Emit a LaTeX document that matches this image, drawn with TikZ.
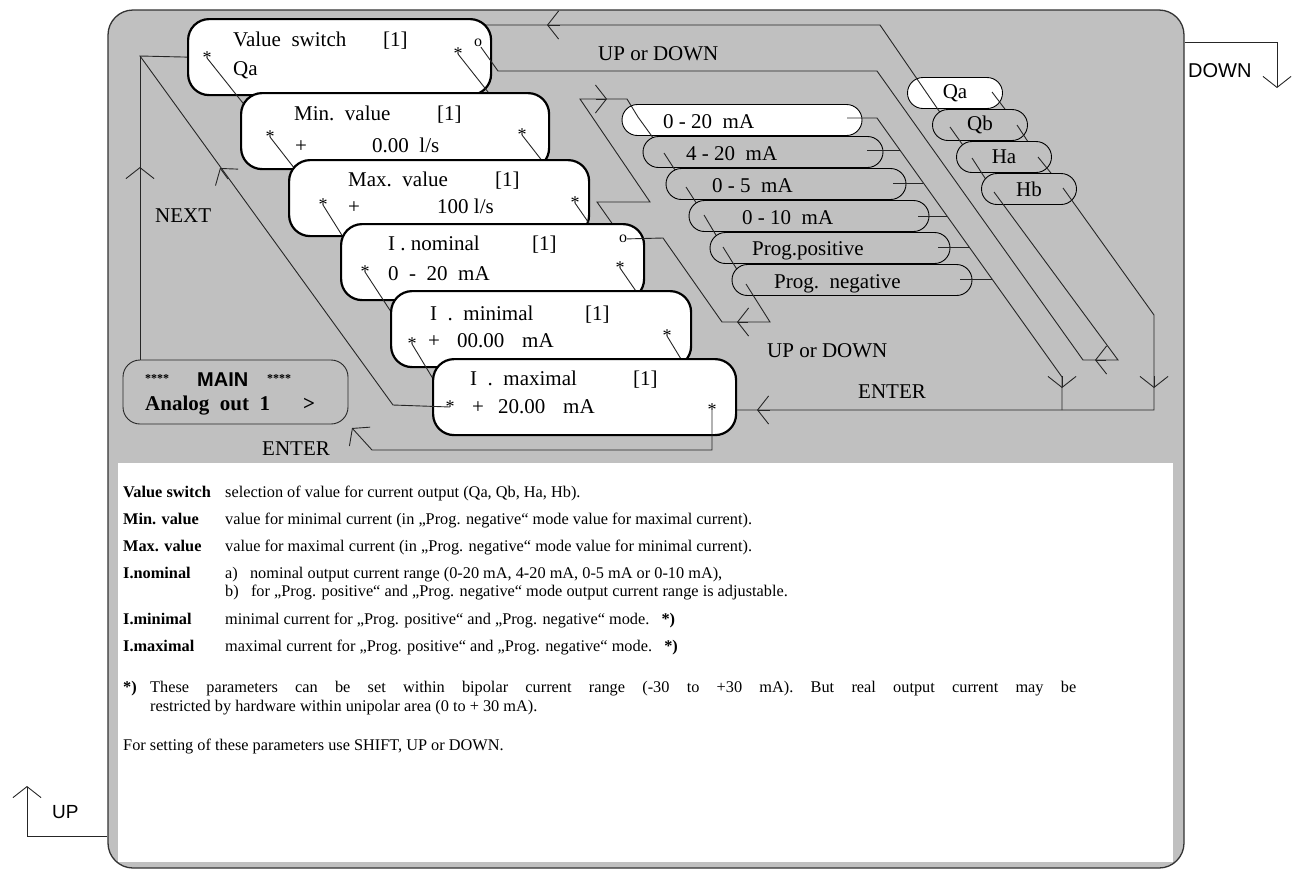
\documentclass[tikz,border=0pt]{standalone}
\usepackage{fontspec}
\setmainfont{Liberation Serif}
\newfontfamily\arialfont{Liberation Sans}
\usetikzlibrary{arrows.meta}
\definecolor{panelgray}{HTML}{C0C0C0}
\newcommand{\lcdfont}{\fontsize{21}{25}\selectfont}
\newcommand{\notefont}{\fontsize{16.3}{19}\selectfont}

\begin{document}
\begin{tikzpicture}[x=1pt, y=-1pt,
  wire/.style={line width=0.9pt, draw=black!85},
  barb/.style={wire, -{Straight Barb[length=11pt, width=28pt]}},
  screen/.style={draw, line width=2.2pt, fill=white, rounded corners=21pt, minimum width=303pt, minimum height=76pt, inner sep=0pt, anchor=north west},
  pill/.style={draw, line width=0.9pt, fill=panelgray, rounded corners=15.5pt, minimum width=240pt, minimum height=31pt, inner sep=0pt, font=\lcdfont},
  lcd/.style={font=\lcdfont, inner sep=0pt, anchor=base west},
  ast/.style={font=\fontsize{18}{18}\selectfont, inner sep=0pt},
  note/.style={font=\notefont, inner sep=0pt, anchor=base west}]

  \useasboundingbox (0,0) rectangle (1292,871);

  % panel and notes area
  \node[draw=black!80, line width=1.3pt, fill=panelgray, rounded corners=25pt, minimum width=1076pt, minimum height=858pt, inner sep=0pt] (panel) at (646,439) {};
  \node[fill=white, minimum width=1055pt, minimum height=399pt, inner sep=0pt, anchor=north west] (notes) at (118,463) {};

  % star and marker points
  \coordinate (s1l) at (207,58);  \coordinate (s1r) at (458,54);  \coordinate (o1) at (478,43);
  \coordinate (s2l) at (270,137); \coordinate (s2r) at (522,135);
  \coordinate (s3l) at (323,205); \coordinate (s3r) at (575,203);
  \coordinate (s4l) at (365,272); \coordinate (s4r) at (620,268); \coordinate (o4) at (623,239);
  \coordinate (s5l) at (412,344); \coordinate (s5r) at (667,336);
  \coordinate (s6l) at (450,407); \coordinate (s6r) at (712,410);
  % value list points
  \coordinate (qa1) at (926,92);  \coordinate (qa2) at (992,92);
  \coordinate (qb1) at (950,127); \coordinate (qb2) at (1017,125);
  \coordinate (ha1) at (972,158); \coordinate (ha2) at (1038,157);
  \coordinate (hb1) at (994,192); \coordinate (hb2) at (1063,188);
  % range list points
  \coordinate (m1l) at (638,117); \coordinate (m1r) at (847,118);
  \coordinate (m2l) at (664,153); \coordinate (m2r) at (867,150);
  \coordinate (m3l) at (686,187); \coordinate (m3r) at (893,183);
  \coordinate (m4l) at (704,215); \coordinate (m4r) at (918,216);
  \coordinate (m5l) at (723,247); \coordinate (m5r) at (938,247);
  \coordinate (m6l) at (746,284); \coordinate (m6r) at (960,279);
  % bends
  \coordinate (tr) at (880,25);   \coordinate (tl) at (470,25);
  \coordinate (lc) at (140,56);   \coordinate (ld) at (393,405);
  \coordinate (eb) at (712,450);  \coordinate (ec) at (372,450);
  \coordinate (enterend) at (352,428);

  % notes
  \node[note, font=\notefont\bfseries] (k1) at (123,497) {Value switch};
  \node[note] (d1) at (225,497) {selection of value for current output (Qa, Qb, Ha, Hb).};
  \node[note, font=\notefont\bfseries] (k2) at (123,524) {Min. value};
  \node[note] (d2) at (225,524) {value for minimal current (in „Prog. negative“ mode value for maximal current).};
  \node[note, font=\notefont\bfseries] (k3) at (123,551) {Max. value};
  \node[note] (d3) at (225,551) {value for maximal current (in „Prog. negative“ mode value for minimal current).};
  \node[note, font=\notefont\bfseries] (k4) at (123,578) {I.nominal};
  \node[note] (d4) at (225,578) {a)\ \ \ nominal output current range (0-20 mA, 4-20 mA, 0-5 mA or 0-10 mA),};
  \node[note] (d5) at (225,596) {b)\ \ \ for „Prog. positive“ and „Prog. negative“ mode output current range is adjustable.};
  \node[note, font=\notefont\bfseries] (k5) at (123,624) {I.minimal};
  \node[note] (d6) at (225,624) {minimal current for „Prog. positive“ and „Prog. negative“ mode.\ \ \ \textbf{*)}};
  \node[note, font=\notefont\bfseries] (k6) at (123,651) {I.maximal};
  \node[note] (d7) at (225,651) {maximal current for „Prog. positive“ and „Prog. negative“ mode.\ \ \ \textbf{*)}};
  \node[note, font=\notefont\bfseries] (k7) at (123,692) {*)};
  \node[note] (d8) at (150,692) {\makebox[926pt][s]{These parameters can be set within bipolar current range (-30 to +30 mA). But real output current may be}};
  \node[note] (d9) at (150,711) {restricted by hardware within unipolar area (0 to + 30 mA).};
  \node[note] (d10) at (123,750) {For setting of these parameters use SHIFT, UP or DOWN.};

  % value list
  \node[pill, fill=white, minimum width=95pt] (qa) at (955,93) {Qa};
  \draw[wire] (qa1) -- (qb1);
  \draw[wire] (qa2) -- (qb2);
  \node[pill, minimum width=95pt] (qb) at (980,125) {Qb};
  \draw[wire] (qb1) -- (ha1);
  \draw[wire] (qb2) -- (ha2);
  \node[pill, minimum width=95pt] (ha) at (1004,157) {Ha};
  \draw[wire] (ha1) -- (hb1);
  \draw[wire] (ha2) -- (hb2);
  \node[pill, minimum width=95pt] (hb) at (1029,189) {Hb};
  \draw[wire] (qa1) -- (tr) -- (tl);

  % range list
  \node[pill, fill=white] (m1) at (742,120) {};
  \node[lcd] (t1) at (663,128) {0 - 20\ \ mA};
  \draw[wire] (o4) -- (597,202) -- (650,202) -- (580,99) -- (627,99) -- (m1l) -- (m2l);
  \node[pill] (m2) at (763,152) {};
  \node[lcd] (t2) at (686,160) {4 - 20\ \ mA};
  \draw[wire] (m2l) -- (m3l);
  \node[pill] (m3) at (786,184) {};
  \node[lcd] (t3) at (712,192) {0 - 5\ \ mA};
  \draw[wire] (m3l) -- (m4l);
  \node[pill] (m4) at (809,216) {};
  \node[lcd] (t4) at (742,224) {0 - 10\ \ mA};
  \draw[wire] (m4l) -- (m5l);
  \node[pill] (m5) at (830,248) {};
  \node[lcd] (t5) at (752,255) {Prog.positive};
  \draw[wire] (m5l) -- (m6l);
  \node[pill] (m6) at (852,280) {};
  \node[lcd] (t6) at (774,288) {Prog.\ \ negative};
  \draw[wire] (m1r) -- (877,118) -- (1062,377) -- (1062,410);
  \draw[wire] (m2r) -- (900,150);
  \draw[wire] (m3r) -- (923,183);
  \draw[wire] (m4r) -- (947,216);
  \draw[wire] (m5r) -- (969,247);
  \draw[wire] (m6r) -- (992,279);

  % menu screens
  \node[screen] (vs) at (187,18) {};
  \node[lcd] (vs1) at (233,46) {Value\ \ switch};
  \node[lcd] (vs2) at (383,46) {[1]};
  \node[lcd] (vs3) at (233,75) {Qa};
  \draw[wire] (s1l) -- (s2l);
  \draw[wire] (s1r) -- (s2r);
  \node[ast] (st1l) at (s1l) {*};
  \node[ast] (st1r) at (s1r) {*};
  \node[ast, font=\fontsize{16}{16}\selectfont] (ob1) at (o1) {o};

  \node[screen, minimum width=308pt] (minv) at (240,92) {};
  \node[lcd] (mi1) at (294,120) {Min.\ \ value};
  \node[lcd] (mi2) at (437,120) {[1]};
  \node[lcd] (mi3) at (295,152) {+};
  \node[lcd] (mi4) at (372,152) {0.00\ \ l/s};
  \draw[wire] (s2l) -- (s3l);
  \draw[wire] (s2r) -- (s3r);
  \node[ast] (st2l) at (s2l) {*};
  \node[ast] (st2r) at (s2r) {*};

  \node[screen, minimum width=300pt] (maxv) at (288,159) {};
  \node[lcd] (mx1) at (348,186) {Max.\ \ value};
  \node[lcd] (mx2) at (495,186) {[1]};
  \node[lcd] (mx3) at (348,213) {+};
  \node[lcd] (mx4) at (437,213) {100 l/s};
  \draw[wire] (s3l) -- (s4l);
  \draw[wire] (s3r) -- (s4r);
  \node[ast] (st3l) at (s3l) {*};
  \node[ast] (st3r) at (s3r) {*};

  \node[screen] (inom) at (340,223) {};
  \node[lcd] (in1) at (388,250) {I . nominal};
  \node[lcd] (in2) at (532,250) {[1]};
  \node[lcd] (in3) at (388,280) {0\ \ -\ \ 20\ \ mA};
  \draw[wire] (s4l) -- (s5l);
  \draw[wire] (s4r) -- (s5r);
  \node[ast] (st4l) at (s4l) {*};
  \node[ast] (st4r) at (s4r) {*};
  \node[ast, font=\fontsize{16}{16}\selectfont] (ob4) at (o4) {o};

  \node[screen, minimum width=300pt] (imin) at (390,290) {};
  \node[lcd] (il1) at (430,320) {I\ \ .\ \ minimal};
  \node[lcd] (il2) at (585,320) {[1]};
  \node[lcd] (il3) at (428,347) {+};
  \node[lcd] (il4) at (457,347) {00.00};
  \node[lcd] (il5) at (522,347) {mA};
  \draw[wire] (s5l) -- (s6l);
  \draw[wire] (s5r) -- (s6r);
  \node[ast] (st5l) at (s5l) {*};
  \node[ast] (st5r) at (s5r) {*};

  \node[screen] (imax) at (432,358) {};
  \node[lcd] (ix1) at (470,385) {I\ \ .\ \ maximal};
  \node[lcd] (ix2) at (633,385) {[1]};
  \node[lcd] (ix3) at (472,413) {+};
  \node[lcd] (ix4) at (498,413) {20.00};
  \node[lcd] (ix5) at (563,413) {mA};

  % main screen
  \node[wire, draw, fill=panelgray, rounded corners=17pt, minimum width=225pt, minimum height=64pt, inner sep=0pt] (mainbox) at (235.5,392) {};
  \node[lcd, font=\fontsize{12}{12}\selectfont\bfseries] (ms1) at (145,382) {****};
  \node[lcd, font=\arialfont\bfseries\fontsize{20}{24}\selectfont] (ms2) at (197,386) {MAIN};
  \node[lcd, font=\fontsize{12}{12}\selectfont\bfseries] (ms3) at (267,382) {****};
  \node[lcd, font=\lcdfont\bfseries] (ma1) at (145,410) {Analog\ \ out\ \ 1};
  \node[lcd, font=\lcdfont\bfseries] (ma2) at (303,410) {>};

  % connectors over the screens
  \draw[wire] (hb1) -- (1118,360) -- (1083,360) -- (877,71) -- (498,71) -- (ob1);
  \draw[wire] (hb2) -- (1154,315) -- (1154,410) -- (imax.east |- s6r);
  \draw[wire] (m6l) -- (770,322) -- (722,322) -- (663,238) -- (ob4);
  \draw[wire] (s6l) -- (ld) -- (lc) -- (vs.west);
  \draw[wire] (mainbox.north -| lc) -- (lc);
  \draw[barb] (s6r) -- (eb) -- (ec) -- (enterend);
  \node[ast] (st6l) at (s6l) {*};
  \node[ast] (st6r) at (s6r) {*};

  % arrow heads along the lines
  \draw[barb] (560,25) -- (547,25);
  \draw[barb] (140,180) -- (140,167);
  \draw[barb] (228,179) -- (220,168);
  \draw[barb] (770,410) -- (757,410);
  \draw[barb] (1106,360) -- (1095,360);
  \draw[barb] (1062,376) -- (1062,388);
  \draw[barb] (1154,376) -- (1154,388);
  \draw[barb] (596,99) -- (607,99);
  \draw[barb] (748,322) -- (737,322);

  % labels
  \node[lcd] (l1) at (598,60) {UP or DOWN};
  \node[lcd] (l2) at (767,357) {UP or DOWN};
  \node[lcd] (l3) at (858,398) {ENTER};
  \node[lcd] (l4) at (262,455) {ENTER};
  \node[lcd] (l5) at (155,222) {NEXT};

  % UP and DOWN keys
  \coordinate (upb) at (27,836);  \coordinate (upt) at (27,786);
  \coordinate (dnb) at (1277,42); \coordinate (dnt) at (1277,88);
  \draw[barb] (panel.west |- upb) -- (upb) -- (upt);
  \draw[barb] (panel.east |- dnb) -- (dnb) -- (dnt);
  \node[lcd, font=\arialfont\fontsize{19}{23}\selectfont] (up) at (52,818) {UP};
  \node[lcd, font=\arialfont\fontsize{20}{24}\selectfont] (dn) at (1188,77) {DOWN};
\end{tikzpicture}
\end{document}
